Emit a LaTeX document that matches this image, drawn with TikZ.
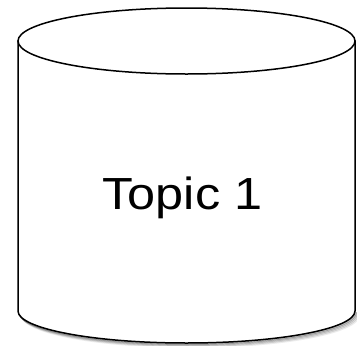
\documentclass[tikz,border=0pt]{standalone}
\usepackage{fontspec}
\setmainfont{Liberation Sans}
\begin{document}
\begin{tikzpicture}[x=1pt,y=-1pt,
  cyl/.style={draw=black,line width=1.5pt,fill=white},
  label/.style={font=\fontsize{45}{50}\selectfont,inner sep=0pt,anchor=base}]
\useasboundingbox (0,0) rectangle (357,346);
% shadow
\foreach \o/\op in {4/0.08,3/0.12,2/0.18,1/0.25}{
  \draw[line width=2pt,black,opacity=\op] (18+\o,311+\o) arc[start angle=180,end angle=0,x radius=168.5,y radius=32];
}
% body
\path[cyl] (18,41) -- (18,311) arc[start angle=180,end angle=0,x radius=168.5,y radius=32] -- (355,41) -- cycle;
% top ellipse
\path[cyl] (186.5,41) ellipse[x radius=168.5,y radius=33];
\node[label] (t) at (182.5,209) {\scalebox{1.12}[1]{Topic 1}};
\end{tikzpicture}
\end{document}
